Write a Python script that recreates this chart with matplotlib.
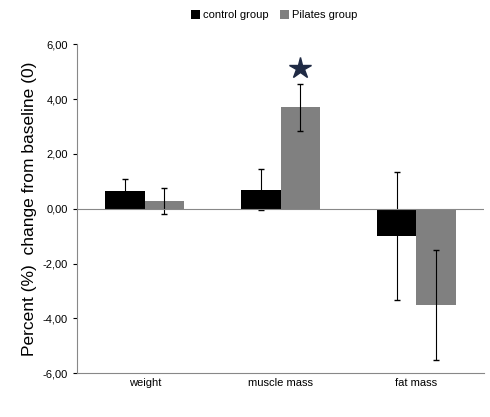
import matplotlib
matplotlib.use("Agg")
import matplotlib.pyplot as plt
import numpy as np

categories = ["weight", "muscle mass", "fat mass"]
control = [0.65, 0.70, -1.00]
control_err = [0.45, 0.75, 2.33]
pilates = [0.28, 3.70, -3.50]
pilates_err = [0.48, 0.85, 2.00]
star_value = 5.15

plt.rcParams["font.family"] = ["Liberation Sans", "DejaVu Sans"]

fig = plt.figure(figsize=(4.9, 4.17), dpi=100)
ax = fig.add_axes([0.157, 0.105, 0.831, 0.789])

x = np.arange(len(categories))
w = 0.29
ax.bar(x - w / 2, control, w, color="black", label="control group",
       yerr=control_err, error_kw=dict(ecolor="black", elinewidth=0.8, capsize=2))
ax.bar(x + w / 2, pilates, w, color="#808080", label="Pilates group",
       yerr=pilates_err, error_kw=dict(ecolor="black", elinewidth=0.8, capsize=2))
ax.plot(1 + w / 2, star_value, marker="*", markersize=16, color="#1f2a44", linestyle="none")

ax.axhline(0, color="#888888", linewidth=0.8)
ax.set_xlim(-0.5, 2.5)
ax.set_ylim(-6, 6)
ax.set_yticks(np.arange(-6, 7, 2))
ax.set_yticklabels([f"{v:.2f}".replace(".", ",") for v in np.arange(-6, 7, 2)], fontsize=8)
ax.set_xticks(x)
ax.set_xticklabels(categories, fontsize=8)
ax.tick_params(axis="x", length=0)
ax.tick_params(axis="y", direction="out", length=3)
for s in ["top", "right"]:
    ax.spines[s].set_visible(False)
for s in ["left", "bottom"]:
    ax.spines[s].set_color("#888888")
ax.set_ylabel("Percent (%)  change from baseline (0)", fontsize=12.5)

fig.legend(loc="upper center", bbox_to_anchor=(0.56, 1.0), ncol=2, frameon=False,
           fontsize=8, handlelength=0.8, handleheight=0.8, columnspacing=1.0,
           handletextpad=0.3)

fig.savefig("out.png", dpi=100, facecolor="white")
